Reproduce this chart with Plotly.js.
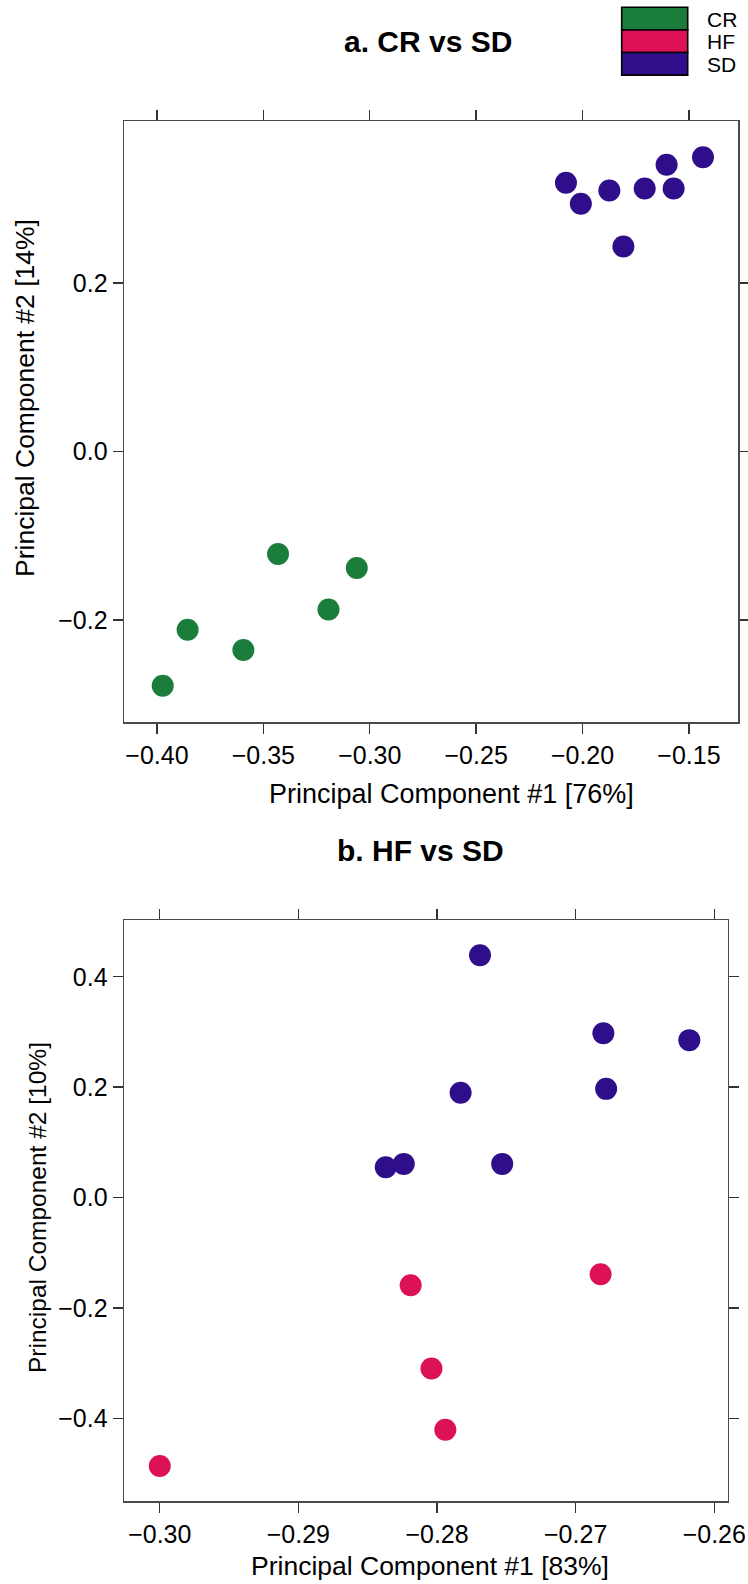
<!DOCTYPE html>
<html><head><meta charset="utf-8">
<script src="https://cdn.plot.ly/plotly-3.0.1.min.js"></script>
<style>html,body{margin:0;padding:0;background:#fff}</style>
</head><body><div id="chart" style="width:748px;height:1584px"></div>
<script>
// groups and colours
const groups = ['CR', 'HF', 'SD'];
const groupColors = ['#1b7d3b', '#dc1157', '#2e0e8a'];

// panel a: CR vs SD
const aCR_x = [-0.3973, -0.3856, -0.3594, -0.3431, -0.3194, -0.3061];
const aCR_y = [-0.2780, -0.2115, -0.2356, -0.1217, -0.1875, -0.1383];
const aSD_x = [-0.2078, -0.2008, -0.1874, -0.1808, -0.1708, -0.1605, -0.1572, -0.1434];
const aSD_y = [0.3187, 0.2938, 0.3096, 0.2431, 0.3120, 0.3400, 0.3120, 0.3490];

// panel b: HF vs SD
const bSD_x = [-0.2769, -0.2680, -0.2618, -0.2783, -0.2678, -0.2837, -0.2824, -0.2753];
const bSD_y = [0.4389, 0.2976, 0.2852, 0.1898, 0.1969, 0.0547, 0.0609, 0.0609];
const bHF_x = [-0.2819, -0.2682, -0.2804, -0.2794, -0.3000];
const bHF_y = [-0.1590, -0.1390, -0.3100, -0.4210, -0.4865];

// ticks
const aXTicks = [-0.40, -0.35, -0.30, -0.25, -0.20, -0.15];
const aYTicks = [-0.2, 0.0, 0.2];
const bXTicks = [-0.30, -0.29, -0.28, -0.27, -0.26];
const bYTicks = [-0.4, -0.2, 0.0, 0.2, 0.4];

// texts
const titleA = 'a. CR vs SD';
const titleB = 'b. HF vs SD';
const xLabA = 'Principal Component #1 [76%]';
const yLabA = 'Principal Component #2 [14%]';
const xLabB = 'Principal Component #1 [83%]';
const yLabB = 'Principal Component #2 [10%]';

const W = 748, H = 1584;
const px = v => v / W;
const py = v => 1 - v / H;
const FONT = 'Liberation Sans, Arial, Helvetica, sans-serif';

function pts(x, y, g, xa, ya) {
  const i = groups.indexOf(g);
  return {type: 'scatter', mode: 'markers', x: x, y: y, xaxis: xa, yaxis: ya,
    name: g, showlegend: false,
    marker: {size: 22, color: groupColors[i], line: {width: 0}}};
}

const data = [
  pts(aCR_x, aCR_y, 'CR', 'x', 'y'),
  pts(aSD_x, aSD_y, 'SD', 'x', 'y'),
  pts(bSD_x, bSD_y, 'SD', 'x2', 'y2'),
  pts(bHF_x, bHF_y, 'HF', 'x2', 'y2')
];

const axBase = {
  showline: true, linecolor: '#4a4a4a', linewidth: 1.4, mirror: 'ticks',
  ticks: 'outside', ticklen: 10, tickwidth: 1.4, tickcolor: '#333',
  showgrid: false, zeroline: false, fixedrange: true,
  tickfont: {family: FONT, size: 25, color: '#000'}
};

const layout = {
  width: W, height: H,
  margin: {l: 0, r: 0, t: 0, b: 0},
  paper_bgcolor: '#fff', plot_bgcolor: '#fff',
  showlegend: false,
  xaxis: Object.assign({}, axBase, {domain: [px(124), px(738.3)], range: [-0.4155, -0.1268],
    tickvals: aXTicks, tickformat: '.2f', anchor: 'y'}),
  yaxis: Object.assign({}, axBase, {domain: [py(722.3), py(121)], range: [-0.3214, 0.392],
    tickvals: aYTicks, tickformat: '.1f', anchor: 'x'}),
  xaxis2: Object.assign({}, axBase, {domain: [px(124), px(728)], range: [-0.30258, -0.25901],
    tickvals: bXTicks, tickformat: '.2f', anchor: 'y2'}),
  yaxis2: Object.assign({}, axBase, {domain: [py(1501.3), py(920.3)], range: [-0.5506, 0.5024],
    tickvals: bYTicks, tickformat: '.1f', anchor: 'x2'}),
  shapes: [],
  annotations: []
};

function ann(text, x, y, size, opts) {
  layout.annotations.push(Object.assign({
    text: text, xref: 'paper', yref: 'paper', x: px(x), y: py(y),
    xanchor: 'center', yanchor: 'middle', showarrow: false,
    font: {family: FONT, size: size, color: '#000'}
  }, opts || {}));
}

ann('<b>' + titleA + '</b>', 428, 42, 30);
ann('<b>' + titleB + '</b>', 420, 851, 30);
ann(xLabA, 451, 794, 27);
ann(yLabA, 25, 398, 26.5, {textangle: -90});
ann(xLabB, 430, 1566, 26.5);
ann(yLabB, 37, 1208, 24.5, {textangle: -90});

// legend: stacked colour boxes with labels
const legTop = 7.3, legRow = 22.6, legL = 621.7, legR = 687.7;
groups.forEach((g, i) => {
  const t = legTop + i * legRow, b = t + legRow;
  layout.shapes.push({type: 'rect', xref: 'paper', yref: 'paper',
    x0: px(legL), x1: px(legR), y0: py(b), y1: py(t),
    fillcolor: groupColors[i], line: {color: '#000', width: 1.6}});
  layout.annotations.push({text: g, xref: 'paper', yref: 'paper',
    x: px(706), y: py((t + b) / 2 + 0.5), xanchor: 'left', yanchor: 'middle',
    borderpad: 0,
    showarrow: false, font: {family: FONT, size: 21, color: '#000'}});
});

Plotly.newPlot('chart', data, layout, {displayModeBar: false, staticPlot: true});
</script></body></html>
